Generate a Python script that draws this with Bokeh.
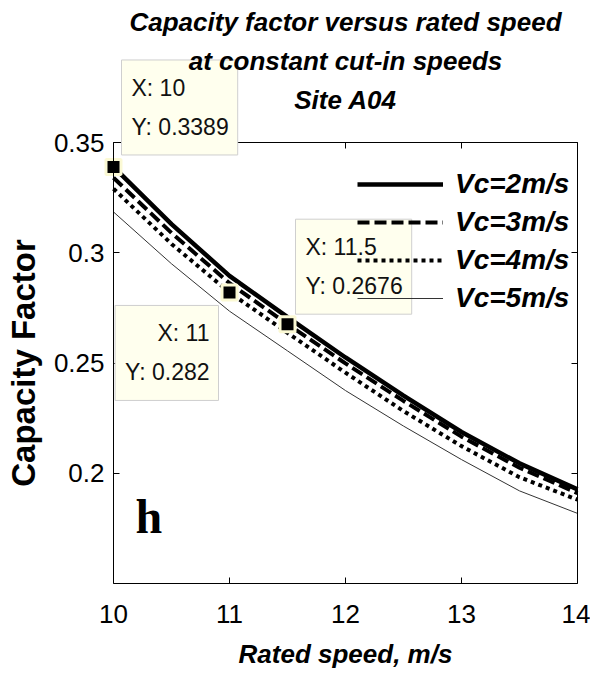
from bokeh.plotting import figure
from bokeh.models import (Range1d, LinearAxis, FixedTicker, Legend, LegendItem, Label)
from bokeh.embed import file_html
from bokeh.resources import INLINE

# ---------------- data ----------------
rated_speed = [10, 10.5, 11, 11.5, 12, 12.5, 13, 13.5, 14]
cf_vc2 = [0.3389, 0.3130, 0.2895, 0.2708, 0.2525, 0.2352, 0.2187, 0.2045, 0.1927]
cf_vc3 = [0.3340, 0.3090, 0.2862, 0.2676, 0.2498, 0.2328, 0.2166, 0.2025, 0.1910]
cf_vc4 = [0.3290, 0.3040, 0.2820, 0.2637, 0.2456, 0.2282, 0.2123, 0.1982, 0.1880]
cf_vc5 = [0.3185, 0.2950, 0.2735, 0.2555, 0.2375, 0.2214, 0.2062, 0.1920, 0.1818]
series_labels = ["Vc=2m/s", "Vc=3m/s", "Vc=4m/s", "Vc=5m/s"]

x_lim = [10, 14]
y_lim = [0.15, 0.35]
x_ticks = [10, 11, 12, 13, 14]
y_ticks = [0.2, 0.25, 0.3, 0.35]
y_tick_labels = ["0.2", "0.25", "0.3", "0.35"]

tip_x = [10, 11, 11.5]
tip_y = [0.3389, 0.282, 0.2676]
tip_texts = ["X: 10\nY: 0.3389", "X: 11\nY: 0.282", "X: 11.5\nY: 0.2676"]

title_lines = ["Capacity factor versus rated speed", "at constant cut-in speeds", "Site A04"]
x_label = "Rated speed, m/s"
y_label = "Capacity Factor"
panel_letter = "h"

# ---------------- layout (pixels of the 590x673 canvas) ----------------
W, H = 590, 673
AX_L, AX_R, AX_T, AX_B = 113, 577, 142, 583
sx = (AX_R - AX_L) / (x_lim[1] - x_lim[0])
sy = (AX_B - AX_T) / (y_lim[1] - y_lim[0])
x_range = Range1d(x_lim[0] - AX_L / sx, x_lim[1] + (W - AX_R) / sx)
y_range = Range1d(y_lim[0] - (H - AX_B) / sy, y_lim[1] + AX_T / sy)


def px_x(px):
    return x_range.start + px / sx


def px_y(py):
    return y_range.end - py / sy


FONT = "Liberation Sans"

p = figure(width=W, height=H, x_range=x_range, y_range=y_range,
           output_backend="svg", toolbar_location=None, title=None,
           x_axis_location=None, y_axis_location=None,
           min_border=0, min_border_left=0, min_border_right=0,
           min_border_top=0, min_border_bottom=0)
p.background_fill_color = "white"
p.border_fill_color = "white"
p.outline_line_color = None
p.xgrid.visible = False
p.ygrid.visible = False


def make_axis(loc, ticks, bounds, labels=True):
    ax = LinearAxis(fixed_location=loc, bounds=tuple(bounds), ticker=FixedTicker(ticks=ticks),
                    major_tick_in=6, major_tick_out=0, minor_tick_in=0, minor_tick_out=0,
                    axis_line_color="black", axis_line_width=1,
                    major_tick_line_color="black",
                    major_label_text_font=FONT, major_label_text_font_size="26px",
                    major_label_text_color="black" if labels else None)
    return ax


left_ax = make_axis(x_lim[0], y_ticks, y_lim)
left_ax.major_label_overrides = dict(zip(y_ticks, y_tick_labels))
left_ax.major_label_standoff = 9
left_ax.axis_label = y_label
left_ax.axis_label_text_font = FONT
left_ax.axis_label_text_font_style = "bold"
left_ax.axis_label_text_font_size = "33px"
left_ax.axis_label_text_color = "black"
left_ax.axis_label_standoff = 9

bottom_ax = make_axis(y_lim[0], x_ticks, x_lim)
bottom_ax.major_label_standoff = 21
bottom_ax.axis_label = x_label
bottom_ax.axis_label_text_font = FONT
bottom_ax.axis_label_text_font_style = "bold italic"
bottom_ax.axis_label_text_font_size = "26px"
bottom_ax.axis_label_text_color = "black"
bottom_ax.axis_label_standoff = 13

right_ax = make_axis(x_lim[1], y_ticks, y_lim, labels=False)
top_ax = make_axis(y_lim[1], x_ticks, x_lim, labels=False)

p.add_layout(left_ax, "left")
p.add_layout(bottom_ax, "below")
p.add_layout(right_ax, "right")
p.add_layout(top_ax, "above")

# ---------------- curves ----------------
r2 = p.line(rated_speed, cf_vc2, line_color="black", line_width=4.5)
r3 = p.line(rated_speed, cf_vc3, line_color="black", line_width=4, line_dash="12 5")
r4 = p.line(rated_speed, cf_vc4, line_color="black", line_width=4, line_dash="4 4")
r5 = p.line(rated_speed, cf_vc5, line_color="#333333", line_width=1)

# data-tip markers
p.scatter(tip_x, tip_y, marker="square", size=15, fill_color="black",
          line_color="#fbf9d4", line_width=3)

# data-tip boxes
tip_style = [
    dict(anchor="top_left", x_offset=8, y_offset=107, text_align="left"),
    dict(anchor="top_right", x_offset=-11, y_offset=-13, text_align="right"),
    dict(anchor="top_left", x_offset=8, y_offset=105, text_align="left"),
]
for tx, ty, tt, st in zip(tip_x, tip_y, tip_texts, tip_style):
    p.add_layout(Label(x=tx, y=ty, text=tt, anchor=st["anchor"],
                       x_offset=st["x_offset"], y_offset=st["y_offset"],
                       text_align=st["text_align"],
                       text_font=FONT, text_font_size="23px", text_line_height=1.5,
                       text_color="#111111",
                       background_fill_color="#ffffee", border_line_color="#cfcfcf",
                       border_line_width=1,
                       padding=dict(left=10, right=9, top=15, bottom=15)))

# title (three centred lines)
title_centres = [21, 60, 99]
for line, cy in zip(title_lines, title_centres):
    p.add_layout(Label(x=(x_lim[0] + x_lim[1]) / 2, y=px_y(cy), text=line,
                       text_align="center", text_baseline="middle",
                       text_font=FONT, text_font_style="bold italic",
                       text_font_size="26px", text_color="black"))

# panel letter
p.add_layout(Label(x=px_x(135), y=px_y(516), text=panel_letter, text_font="Liberation Serif",
                   text_font_style="bold", text_font_size="48px", text_baseline="alphabetic",
                   text_color="black"))

legend = Legend(items=[LegendItem(label=series_labels[0], renderers=[r2]),
                       LegendItem(label=series_labels[1], renderers=[r3]),
                       LegendItem(label=series_labels[2], renderers=[r4]),
                       LegendItem(label=series_labels[3], renderers=[r5])],
                location=(357, H - 317), glyph_width=86, glyph_height=38, label_height=38,
                spacing=0, padding=0, margin=0, label_standoff=12,
                border_line_color=None, background_fill_alpha=0,
                label_text_font=FONT, label_text_font_style="bold italic",
                label_text_font_size="28px", label_text_color="black")
p.add_layout(legend, "center")

open("out.html", "w").write(file_html(p, INLINE))
